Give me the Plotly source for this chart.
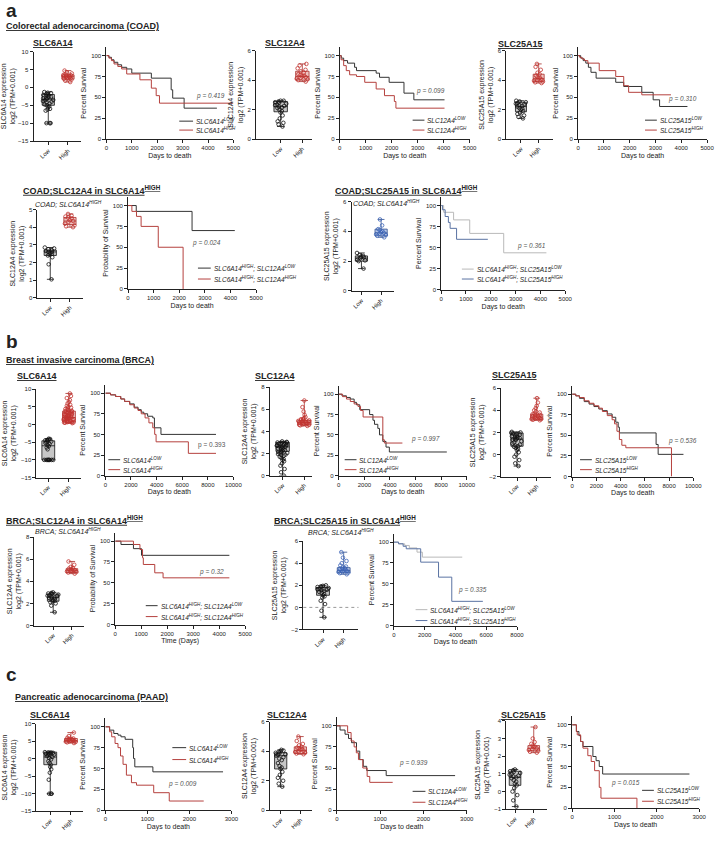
import plotly.graph_objects as go

W, H = 720, 841
FONT = "Liberation Sans, Arial, sans-serif"

# ---------------- DATA ----------------
# box stats: [q1, median, q3, min, max]
coad_slc6a14_low_stats = [-5.0, -3.3, -2.0, -10.0, -1.3]
coad_slc6a14_low_pts = [-1.3, -1.5, -1.6, -1.8, -2.0, -2.1, -2.3, -2.5, -2.6, -2.8, -3.0, -3.1, -3.3, -3.5,
                        -3.6, -3.8, -4.0, -4.2, -4.5, -4.8, -5.0, -5.3, -5.6, -6.0, -6.2, -6.5, -10, -10, -10]
coad_slc6a14_high_stats = [2.3, 3.0, 3.5, 1.5, 4.7]
coad_slc6a14_high_pts = [1.5, 1.9, 2.2, 2.4, 2.5, 2.6, 2.8, 2.9, 3.0, 3.1, 3.2, 3.3, 3.4, 3.5, 3.7, 3.9, 4.2, 4.7]
coad_slc12a4_low_stats = [1.85, 2.2, 2.55, 0.85, 2.6]
coad_slc12a4_low_pts = [0.85, 1.0, 1.1, 1.2, 1.4, 1.6, 1.8, 1.9, 2.0, 2.1, 2.15, 2.2, 2.25, 2.3, 2.35, 2.4, 2.45,
                        2.5, 2.55, 2.6, 2.6]
coad_slc12a4_high_stats = [4.0, 4.25, 4.6, 3.9, 5.1]
coad_slc12a4_high_pts = [3.9, 4.0, 4.05, 4.1, 4.15, 4.2, 4.25, 4.3, 4.35, 4.4, 4.5, 4.6, 4.7, 4.8, 5.0, 5.1]
coad_slc25a15_low_stats = [1.85, 2.2, 2.5, 1.4, 2.6]
coad_slc25a15_low_pts = [1.4, 1.5, 1.6, 1.7, 1.8, 1.9, 2.0, 2.05, 2.1, 2.2, 2.25, 2.3, 2.35, 2.4, 2.45, 2.5, 2.55, 2.6]
coad_slc25a15_high_stats = [3.9, 4.1, 4.4, 3.8, 5.1]
coad_slc25a15_high_pts = [3.8, 3.85, 3.9, 3.95, 4.0, 4.05, 4.1, 4.15, 4.2, 4.3, 4.4, 4.5, 4.7, 4.9, 5.1]
coad_sub12_low_stats = [2.4, 2.6, 2.7, 1.05, 2.85]
coad_sub12_low_pts = [1.05, 1.9, 2.3, 2.4, 2.45, 2.5, 2.55, 2.6, 2.6, 2.65, 2.7, 2.75, 2.8, 2.85]
coad_sub12_high_stats = [4.15, 4.35, 4.55, 4.0, 4.75]
coad_sub12_high_pts = [4.0, 4.05, 4.1, 4.2, 4.3, 4.35, 4.4, 4.5, 4.55, 4.6, 4.65, 4.75]
coad_sub25_low_stats = [2.0, 2.2, 2.35, 1.5, 2.55]
coad_sub25_low_pts = [1.5, 2.0, 2.05, 2.1, 2.2, 2.25, 2.3, 2.35, 2.4, 2.55]
coad_sub25_high_stats = [3.7, 3.9, 4.15, 3.6, 4.8]
coad_sub25_high_pts = [3.6, 3.7, 3.75, 3.8, 3.85, 3.9, 3.95, 4.0, 4.1, 4.15, 4.4, 4.8]

brca_slc6a14_low_stats = [-10.0, -6.0, -4.6, -10.2, -4.0]
brca_slc6a14_low_pts = [-4.0, -4.1, -4.3, -4.4, -4.5, -4.6, -4.8, -5.0, -5.2, -5.5, -5.8, -6.1, -6.5, -7.0,
                        -10, -10, -10, -10, -10, -10, -10, -10]
brca_slc6a14_high_stats = [0.7, 2.0, 3.8, 0.4, 8.8]
brca_slc6a14_high_pts = [0.4, 0.5, 0.6, 0.6, 0.7, 0.7, 0.8, 0.9, 1.0, 1.0, 1.1, 1.2, 1.3, 1.4, 1.5, 1.5, 1.6, 1.7,
                         1.8, 1.9, 2.0, 2.0, 2.1, 2.2, 2.3, 2.4, 2.5, 2.6, 2.7, 2.8, 2.9, 3.0, 3.1, 3.2, 3.3, 3.4,
                         3.5, 3.6, 3.7, 3.8, 3.9, 4.0, 4.2, 4.4, 4.6, 4.8, 5.0, 5.3, 5.6, 6.0, 6.4, 6.9, 7.5,
                         8.1, 8.8]
brca_slc12a4_low_stats = [2.2, 2.6, 3.0, 0.0, 3.1]
brca_slc12a4_low_pts = [0.0, 0.3, 0.6, 0.9, 1.1, 1.3, 1.4, 1.5, 1.6, 1.7, 1.8, 1.85, 1.9, 1.95, 2.0, 2.05, 2.1,
                        2.15, 2.2, 2.25, 2.3, 2.35, 2.4, 2.45, 2.5, 2.55, 2.6, 2.62, 2.65, 2.7, 2.72, 2.75, 2.8,
                        2.82, 2.85, 2.9, 2.92, 2.95, 3.0, 3.0, 3.05, 3.1]
brca_slc12a4_high_stats = [4.6, 4.8, 5.0, 4.5, 6.8]
brca_slc12a4_high_pts = [4.5, 4.55, 4.6, 4.6, 4.65, 4.7, 4.7, 4.75, 4.8, 4.8, 4.85, 4.9, 4.9, 4.95, 5.0, 5.0,
                         5.05, 5.1, 5.15, 5.2, 5.3, 5.5, 5.8, 6.2, 6.8]
brca_slc25a15_low_stats = [0.75, 1.4, 1.95, -1.05, 2.05]
brca_slc25a15_low_pts = [-1.05, -0.8, -0.5, -0.2, 0.0, 0.2, 0.4, 0.5, 0.6, 0.7, 0.75, 0.8, 0.9, 1.0, 1.1, 1.2,
                         1.3, 1.35, 1.4, 1.45, 1.5, 1.55, 1.6, 1.65, 1.7, 1.75, 1.8, 1.85, 1.9, 1.95, 2.0, 2.05]
brca_slc25a15_high_stats = [3.15, 3.4, 3.65, 3.1, 5.1]
brca_slc25a15_high_pts = [3.1, 3.15, 3.2, 3.2, 3.25, 3.3, 3.35, 3.4, 3.4, 3.45, 3.5, 3.55, 3.6, 3.65, 3.7, 3.8,
                          3.9, 4.0, 4.2, 4.4, 4.7, 5.1]
brca_sub12_low_stats = [2.2, 2.55, 2.85, 1.2, 3.0]
brca_sub12_low_pts = [1.2, 1.8, 2.0, 2.1, 2.2, 2.25, 2.3, 2.4, 2.45, 2.5, 2.55, 2.6, 2.65, 2.7, 2.75, 2.8, 2.85,
                      2.9, 2.95, 3.0]
brca_sub12_high_stats = [4.8, 5.0, 5.15, 4.7, 5.8]
brca_sub12_high_pts = [4.7, 4.8, 4.85, 4.9, 4.95, 5.0, 5.0, 5.05, 5.1, 5.15, 5.2, 5.3, 5.5, 5.8]
brca_sub25_low_stats = [1.1, 1.5, 1.8, -0.9, 2.0]
brca_sub25_low_pts = [-0.9, -0.3, 0.3, 0.6, 0.9, 1.0, 1.1, 1.2, 1.3, 1.4, 1.5, 1.55, 1.6, 1.65, 1.7, 1.75, 1.8,
                      1.85, 1.9, 1.95, 2.0]
brca_sub25_high_stats = [3.15, 3.35, 3.6, 3.0, 5.0]
brca_sub25_high_pts = [3.0, 3.1, 3.15, 3.2, 3.25, 3.3, 3.35, 3.4, 3.45, 3.5, 3.55, 3.6, 3.7, 3.8, 4.0, 4.2,
                       4.5, 5.0]

paad_slc6a14_low_stats = [-1.7, 0.5, 1.9, -10.0, 1.9]
paad_slc6a14_low_pts = [1.9, 1.85, 1.8, 1.7, 1.6, 1.5, 1.4, 1.3, 1.2, 1.0, 0.8, 0.5, 0.2, -0.2, -0.7, -1.2,
                        -1.7, -2.3, -3.0, -4.0, -6.0, -10, -10, -10]
paad_slc6a14_high_stats = [4.8, 5.2, 5.8, 4.5, 7.5]
paad_slc6a14_high_pts = [4.5, 4.7, 4.8, 4.9, 5.0, 5.1, 5.2, 5.3, 5.4, 5.5, 5.6, 5.7, 5.8, 6.0, 6.5, 7.5]
paad_slc12a4_low_stats = [2.8, 3.7, 3.9, 1.6, 4.1]
paad_slc12a4_low_pts = [1.6, 1.8, 2.0, 2.2, 2.4, 2.6, 2.8, 2.9, 3.0, 3.2, 3.4, 3.5, 3.6, 3.7, 3.75, 3.8, 3.85,
                        3.9, 3.95, 4.0, 4.05, 4.1]
paad_slc12a4_high_stats = [3.85, 4.05, 4.3, 3.8, 5.0]
paad_slc12a4_high_pts = [3.8, 3.85, 3.9, 3.95, 4.0, 4.05, 4.1, 4.15, 4.2, 4.25, 4.3, 4.4, 4.5, 4.7, 5.0]
paad_slc25a15_low_stats = [0.35, 0.8, 1.15, -0.85, 1.25]
paad_slc25a15_low_pts = [-0.85, -0.5, -0.2, 0.0, 0.2, 0.35, 0.45, 0.55, 0.65, 0.75, 0.8, 0.85, 0.9, 0.95, 1.0,
                         1.05, 1.1, 1.15, 1.2, 1.25]
paad_slc25a15_high_stats = [2.3, 2.45, 2.6, 2.2, 3.65]
paad_slc25a15_high_pts = [2.2, 2.25, 2.3, 2.35, 2.4, 2.45, 2.5, 2.55, 2.6, 2.7, 2.8, 3.0, 3.65]

# Kaplan-Meier curves (days, percent survival)
km_coad_slc6a14_low_t = [0, 100, 200, 300, 450, 600, 800, 1000, 1770, 2550, 2610, 3060, 4350]
km_coad_slc6a14_low_s = [100, 98, 95, 92, 89, 86, 84, 79, 73, 59, 49, 37, 37]
km_coad_slc6a14_high_t = [0, 100, 200, 300, 450, 600, 800, 1320, 1770, 1960, 2090, 5000]
km_coad_slc6a14_high_s = [100, 97, 94, 90, 87, 84, 78, 71, 61, 52, 43, 43]
km_coad_slc12a4_low_t = [0, 60, 150, 300, 570, 644, 1400, 1530, 1900, 2470, 2850, 4030]
km_coad_slc12a4_low_s = [100, 97, 94, 91, 86, 82, 79, 74, 68, 55, 47, 47]
km_coad_slc12a4_high_t = [0, 50, 150, 250, 380, 644, 960, 1400, 1720, 2100, 2160, 4030]
km_coad_slc12a4_high_s = [100, 95, 88, 82, 77, 75, 68, 60, 52, 45, 37, 37]
km_coad_slc25a15_low_t = [0, 100, 200, 300, 400, 500, 700, 1460, 1770, 2470, 2910, 3160, 4240]
km_coad_slc25a15_low_s = [100, 97, 94, 91, 86, 80, 73, 68, 63, 56, 47, 39, 39]
km_coad_slc25a15_high_t = [0, 60, 150, 250, 380, 820, 1460, 1770, 1960, 2470, 3600]
km_coad_slc25a15_high_s = [100, 98, 96, 94, 91, 82, 75, 64, 56, 53, 53]
km_coad_sub12_low_t = [0, 320, 2500, 4170]
km_coad_sub12_low_s = [100, 93, 70, 70]
km_coad_sub12_high_t = [0, 150, 330, 510, 1180, 2150]
km_coad_sub12_high_s = [100, 93, 87, 75, 50, 0]
km_coad_sub25_low_t = [0, 100, 500, 1150, 2520, 4240]
km_coad_sub25_low_s = [100, 92, 83, 67, 44, 44]
km_coad_sub25_high_t = [0, 50, 160, 290, 360, 620, 1880]
km_coad_sub25_high_s = [100, 95, 87, 80, 73, 60, 60]

km_brca_slc6a14_low_t = [0, 400, 800, 1200, 1500, 1900, 2250, 2550, 2800, 3000, 3300, 3700, 3830, 4340, 8640]
km_brca_slc6a14_low_s = [100, 98, 96, 93, 90, 87, 83, 80, 77, 75, 72, 70, 58, 50, 50]
km_brca_slc6a14_high_t = [0, 400, 800, 1200, 1500, 1900, 2250, 2550, 2800, 3100, 3400, 3700, 3850, 3960, 6480, 8640]
km_brca_slc6a14_high_s = [100, 98, 96, 93, 90, 86, 82, 79, 75, 70, 64, 58, 50, 41, 27, 27]
km_brca_slc12a4_low_t = [0, 250, 600, 900, 1200, 1380, 1640, 2410, 2670, 2790, 3050, 3180, 3440, 3690, 3950, 8440]
km_brca_slc12a4_low_s = [100, 98, 96, 94, 90, 87, 81, 75, 68, 63, 58, 50, 42, 35, 29, 29]
km_brca_slc12a4_high_t = [0, 300, 600, 900, 1200, 1500, 1700, 1900, 3440, 3560, 4970]
km_brca_slc12a4_high_s = [100, 97, 94, 91, 88, 85, 80, 72, 44, 40, 40]
km_brca_slc25a15_low_t = [0, 300, 600, 1000, 1400, 1800, 2200, 2500, 2900, 3300, 3600, 3800, 3900, 6930, 7100, 9190]
km_brca_slc25a15_low_s = [100, 98, 95, 91, 88, 85, 82, 80, 76, 72, 66, 60, 53, 39, 27, 27]
km_brca_slc25a15_high_t = [0, 300, 600, 1000, 1400, 1800, 2200, 2500, 2900, 3300, 3500, 3700, 3900, 4100, 4430, 8200]
km_brca_slc25a15_high_s = [100, 98, 96, 92, 89, 86, 83, 79, 74, 69, 64, 55, 45, 38, 35, 0]
km_brca_sub12_low_t = [0, 220, 700, 1010, 4390]
km_brca_sub12_low_s = [100, 96, 91, 83, 83]
km_brca_sub12_high_t = [0, 700, 950, 1050, 1080, 1520, 1840, 4390]
km_brca_sub12_high_s = [100, 96, 90, 80, 72, 62, 56, 56]
km_brca_sub25_low_t = [0, 300, 700, 1000, 1500, 1850, 4440]
km_brca_sub25_low_s = [100, 98, 96, 93, 88, 82, 82]
km_brca_sub25_high_t = [0, 300, 600, 800, 1740, 2900, 3760, 5780]
km_brca_sub25_high_s = [100, 98, 95, 92, 76, 58, 29, 29]

km_paad_slc6a14_low_t = [0, 100, 200, 300, 370, 470, 650, 670, 700, 1130, 2800]
km_paad_slc6a14_low_s = [100, 96, 92, 90, 88, 85, 75, 62, 52, 46, 46]
km_paad_slc6a14_high_t = [0, 100, 150, 230, 300, 360, 420, 500, 620, 740, 1150, 1520, 2340]
km_paad_slc6a14_high_s = [100, 94, 88, 80, 75, 65, 55, 42, 33, 30, 21, 11, 11]
km_paad_slc12a4_low_t = [0, 75, 190, 270, 340, 455, 530, 610, 690, 1140, 2730]
km_paad_slc12a4_low_s = [100, 95, 90, 85, 80, 70, 60, 52, 47, 41, 41]
km_paad_slc12a4_high_t = [0, 250, 330, 400, 450, 500, 600, 700, 760, 1290]
km_paad_slc12a4_high_s = [100, 92, 82, 75, 68, 60, 50, 40, 33, 33]
km_paad_slc25a15_low_t = [0, 100, 160, 200, 255, 490, 565, 640, 720, 2770]
km_paad_slc25a15_low_s = [100, 92, 87, 80, 74, 62, 57, 50, 41, 41]
km_paad_slc25a15_high_t = [0, 100, 120, 200, 255, 370, 450, 530, 640, 680, 1530]
km_paad_slc25a15_high_s = [100, 92, 88, 80, 72, 63, 56, 45, 25, 12, 0]

p_values = ["p = 0.419", "p = 0.099", "p = 0.310", "p = 0.024", "p = 0.361",
            "p = 0.393", "p = 0.997", "p = 0.536", "p = 0.32", "p = 0.335",
            "p = 0.009", "p = 0.939", "p = 0.015"]

# ---------------- STYLE ----------------
INK = "#222222"
RED_PT, RED_FILL, RED_LINE = "#c23430", "#efc3c1", "#a8302c"
BLUE_PT, BLUE_FILL, BLUE_LINE = "#3b63b6", "#b9c9e8", "#2f4f8f"
GREY_FILL = "#c6c6c6"
KM_BLACK, KM_RED, KM_GREY, KM_BLUE = "#333333", "#b5413e", "#b9b9b9", "#5a73a3"

fig = go.Figure()
layout = {}
annotations = []
shapes = []
counter = [0]

AXBASE = dict(showline=True, linecolor=INK, linewidth=1, ticks="outside", ticklen=3, tickwidth=1,
              tickcolor=INK, showgrid=False, zeroline=False, tickfont=dict(size=6, color=INK),
              title_font=dict(size=7, color=INK), fixedrange=True)


def fx(x):
    return x / W


def fy(y):
    return 1 - y / H


def text(t, x, y, size=7, xanchor="left", yanchor="middle", color=INK):
    annotations.append(dict(text=t, x=fx(x), y=fy(y), xref="paper", yref="paper", xanchor=xanchor,
                            yanchor=yanchor, showarrow=False, borderpad=0,
                            font=dict(size=size, color=color)))


def box_panel(geom, yrange, dtick, ytitle, low_stats, low_pts, high_stats, high_pts, hi_colors):
    axis_x, low_x, high_x, end_x, ytop, ybot = geom
    counter[0] += 1
    n = counter[0]
    unit = high_x - low_x
    xr = [(axis_x - low_x) / unit, (end_x - low_x) / unit]
    layout[f"xaxis{n}"] = dict(AXBASE, domain=[fx(axis_x), fx(end_x)], range=xr, anchor=f"y{n}",
                               tickmode="array", tickvals=[0, 1], ticktext=["Low", "High"], tickangle=-45)
    layout[f"yaxis{n}"] = dict(AXBASE, domain=[fy(ybot), fy(ytop)], range=yrange, dtick=dtick,
                               anchor=f"x{n}", title=dict(text=ytitle, standoff=3))
    for pos, stats, pts, (pc, fc, lc) in [(0, low_stats, low_pts, ("#111111", GREY_FILL, "#111111")),
                                          (1, high_stats, high_pts, hi_colors)]:
        q1, med, q3, lo, hi = stats
        fig.add_trace(go.Box(x=[pos], q1=[q1], median=[med], q3=[q3], lowerfence=[lo], upperfence=[hi],
                             y=[pts], boxpoints="all", jitter=1.0, pointpos=0, width=0.62, whiskerwidth=0.55,
                             fillcolor=fc, line=dict(color=lc, width=0.8),
                             marker=dict(color=pc, size=3.6, symbol="circle-open", line=dict(width=0.8, color=pc)),
                             xaxis=f"x{n}", yaxis=f"y{n}", showlegend=False, hoverinfo="skip"))
    return n


def km_panel(geom, xmax, xdtick, ytitle, xtitle, curves, ptext, ppos, pital=True):
    x0, x1, y100, y0 = geom
    counter[0] += 1
    n = counter[0]
    ytop = y100 - (y0 - y100) * 0.1
    layout[f"xaxis{n}"] = dict(AXBASE, domain=[fx(x0), fx(x1)], range=[0, xmax], dtick=xdtick,
                               tickformat="d", anchor=f"y{n}", title=dict(text=xtitle, standoff=2))
    layout[f"yaxis{n}"] = dict(AXBASE, domain=[fy(y0), fy(ytop)], range=[0, 110], tickmode="array",
                               tickvals=[0, 25, 50, 75, 100], anchor=f"x{n}",
                               title=dict(text=ytitle, standoff=3))
    for t, s, c in curves:
        fig.add_trace(go.Scatter(x=t, y=s, mode="lines", line=dict(color=c, width=1, shape="hv"),
                                 xaxis=f"x{n}", yaxis=f"y{n}", showlegend=False, hoverinfo="skip"))
    ptxt = f"<i>{ptext}</i>" if pital else ptext
    annotations.append(dict(text=ptxt, x=ppos[0], y=ppos[1], xref=f"x{n}", yref=f"y{n}", showarrow=False,
                            font=dict(size=6.5, color="#555555")))
    return n


def km_legend(xl0, xl1, xt, rows, items):
    for (lab, col), y in zip(items, rows):
        shapes.append(dict(type="line", xref="paper", yref="paper", x0=fx(xl0), x1=fx(xl1), y0=fy(y), y1=fy(y),
                           line=dict(color=col, width=1)))
        text(f"<i>{lab}</i>", xt, y, size=6.5)


def two(g):
    return [(f"{g}<sup>LOW</sup>", KM_BLACK), (f"{g}<sup>HIGH</sup>", KM_RED)]


def sub(g):
    return [(f"SLC6A14<sup>HIGH</sup>; {g}<sup>LOW</sup>", KM_GREY if g == "SLC25A15" else KM_BLACK),
            (f"SLC6A14<sup>HIGH</sup>; {g}<sup>HIGH</sup>", KM_BLUE if g == "SLC25A15" else KM_RED)]


RED = (RED_PT, RED_FILL, RED_LINE)
BLUE = (BLUE_PT, BLUE_FILL, BLUE_LINE)
YT = "{} expression<br>log2 (TPM+0.001)"
DAYS = "Days to death"
PS = "Percent Survival"

# ---------------- PANEL a ----------------
text("<b>a</b>", 3, 8, size=19)
text("<b><u>Colorectal adenocarcinoma (COAD)</u></b>", 3, 23, size=9)
text("<b><u>SLC6A14</u></b>", 52, 40, size=9, xanchor="center")
text("<b><u>SLC12A4</u></b>", 287, 40, size=9, xanchor="center")
text("<b><u>SLC25A15</u></b>", 527, 41, size=9, xanchor="center")

box_panel((32, 47, 67, 80, 49, 139), [-15, 10], 5, YT.format("SLC6A14"),
          coad_slc6a14_low_stats, coad_slc6a14_low_pts, coad_slc6a14_high_stats, coad_slc6a14_high_pts, RED)
km_panel((106, 235, 53, 137), 5000, 1000, PS, DAYS,
         [(km_coad_slc6a14_low_t, km_coad_slc6a14_low_s, KM_BLACK),
          (km_coad_slc6a14_high_t, km_coad_slc6a14_high_s, KM_RED)], p_values[0], (4100, 52))
km_legend(180, 194, 196, [119, 128], two("SLC6A14"))

box_panel((258, 283, 305, 315, 48, 137), [0, 6], 2, YT.format("SLC12A4"),
          coad_slc12a4_low_stats, coad_slc12a4_low_pts, coad_slc12a4_high_stats, coad_slc12a4_high_pts, RED)
km_panel((343, 475, 53, 137), 5000, 1000, PS, DAYS,
         [(km_coad_slc12a4_low_t, km_coad_slc12a4_low_s, KM_BLACK),
          (km_coad_slc12a4_high_t, km_coad_slc12a4_high_s, KM_RED)], p_values[1], (3500, 57))
km_legend(417, 429, 431, [118, 128], two("SLC12A4"))

box_panel((512, 527, 545, 560, 48, 137), [0, 6], 2, YT.format("SLC25A15"),
          coad_slc25a15_low_stats, coad_slc25a15_low_pts, coad_slc25a15_high_stats, coad_slc25a15_high_pts, RED)
km_panel((585, 716, 53, 137), 5000, 1000, PS, DAYS,
         [(km_coad_slc25a15_low_t, km_coad_slc25a15_low_s, KM_BLACK),
          (km_coad_slc25a15_high_t, km_coad_slc25a15_high_s, KM_RED)], p_values[2], (4030, 48))
km_legend(653, 665, 667, [118, 128], two("SLC25A15"))

text("<b><u>COAD;SLC12A4 in SLC6A14<sup>HIGH</sup></u></b>", 20, 188, size=9)
text("<i>COAD; SLC6A14<sup>HIGH</sup></i>", 32, 202, size=7)
box_panel((36, 49, 69, 82, 208, 297), [0, 5], 1, YT.format("SLC12A4"),
          coad_sub12_low_stats, coad_sub12_low_pts, coad_sub12_high_stats, coad_sub12_high_pts, RED)
km_panel((128, 258, 204, 288), 5000, 1000, "Probability of Survival", DAYS,
         [(km_coad_sub12_low_t, km_coad_sub12_low_s, KM_BLACK),
          (km_coad_sub12_high_t, km_coad_sub12_high_s, KM_RED)], p_values[3], (3080, 55))
km_legend(199, 212, 214, [267, 278], sub("SLC12A4"))

text("<b><u>COAD;SLC25A15 in SLC6A14<sup>HIGH</sup></u></b>", 337, 188, size=9)
text("<i>COAD; SLC6A14<sup>HIGH</sup></i>", 355, 201, size=7)
box_panel((355, 365, 385, 398, 200, 290), [0, 6], 2, YT.format("SLC25A15"),
          coad_sub25_low_stats, coad_sub25_low_pts, coad_sub25_high_stats, coad_sub25_high_pts, BLUE)
km_panel((446, 572, 204, 289), 5000, 1000, PS, DAYS,
         [(km_coad_sub25_low_t, km_coad_sub25_low_s, KM_GREY),
          (km_coad_sub25_high_t, km_coad_sub25_high_s, KM_BLUE)], p_values[4], (3630, 52))
km_legend(467, 479, 481, [268, 278], sub("SLC25A15"))

# ---------------- PANEL b ----------------
text("<b>b</b>", 3, 341, size=19)
text("<b><u>Breast invasive carcinoma (BRCA)</u></b>", 3, 360, size=9)
text("<b><u>SLC6A14</u></b>", 36, 376, size=9, xanchor="center")
text("<b><u>SLC12A4</u></b>", 277, 376, size=9, xanchor="center")
text("<b><u>SLC25A15</u></b>", 520, 375, size=9, xanchor="center")

box_panel((35, 47, 68, 80, 389, 478), [-15, 10], 5, YT.format("SLC6A14"),
          brca_slc6a14_low_stats, brca_slc6a14_low_pts, brca_slc6a14_high_stats, brca_slc6a14_high_pts, RED)
km_panel((105, 235, 393, 476), 10000, 2000, PS, DAYS,
         [(km_brca_slc6a14_low_t, km_brca_slc6a14_low_s, KM_BLACK),
          (km_brca_slc6a14_high_t, km_brca_slc6a14_high_s, KM_RED)], p_values[5], (8300, 37), pital=False)
km_legend(108, 120, 122, [460, 470], two("SLC6A14"))

box_panel((272, 285, 307, 315, 387, 476), [0, 8], 2, YT.format("SLC12A4"),
          brca_slc12a4_low_stats, brca_slc12a4_low_pts, brca_slc12a4_high_stats, brca_slc12a4_high_pts, RED)
km_panel((342, 472, 394, 476), 10000, 2000, PS, DAYS,
         [(km_brca_slc12a4_low_t, km_brca_slc12a4_low_s, KM_BLACK),
          (km_brca_slc12a4_high_t, km_brca_slc12a4_high_s, KM_RED)], p_values[6], (6800, 45))
km_legend(348, 360, 362, [460, 470], two("SLC12A4"))

box_panel((507, 523, 543, 558, 388, 477), [-2, 6], 2, YT.format("SLC25A15"),
          brca_slc25a15_low_stats, brca_slc25a15_low_pts, brca_slc25a15_high_stats, brca_slc25a15_high_pts, RED)
km_panel((579, 702, 394, 477), 10000, 2000, PS, DAYS,
         [(km_brca_slc25a15_low_t, km_brca_slc25a15_low_s, KM_BLACK),
          (km_brca_slc25a15_high_t, km_brca_slc25a15_high_s, KM_RED)], p_values[7], (9070, 43))
km_legend(587, 599, 601, [460, 470], two("SLC25A15"))

text("<b><u>BRCA;SLC12A4 in SLC6A14<sup>HIGH</sup></u></b>", 3, 521, size=9)
text("<i>BRCA; SLC6A14<sup>HIGH</sup></i>", 33, 532, size=7)
box_panel((33, 52, 71, 83, 538, 627), [0, 8], 2, YT.format("SLC12A4"),
          brca_sub12_low_stats, brca_sub12_low_pts, brca_sub12_high_stats, brca_sub12_high_pts, RED)
km_panel((115, 247, 542, 626), 5000, 1000, "Probability of Survival", "Time (Days)",
         [(km_brca_sub12_low_t, km_brca_sub12_low_s, KM_BLACK),
          (km_brca_sub12_high_t, km_brca_sub12_high_s, KM_RED)], p_values[8], (3700, 63))
km_legend(146, 158, 160, [607, 618], sub("SLC12A4"))

text("<b><u>BRCA;SLC25A15 in SLC6A14<sup>HIGH</sup></u></b>", 275, 521, size=9)
text("<i>BRCA; SLC6A14<sup>HIGH</sup></i>", 310, 533, size=7)
nb5 = box_panel((306, 326, 347, 362, 542, 631), [-2, 6], 2, YT.format("SLC25A15"),
                brca_sub25_low_stats, brca_sub25_low_pts, brca_sub25_high_stats, brca_sub25_high_pts, BLUE)
shapes.append(dict(type="line", xref=f"x{nb5} domain", yref=f"y{nb5}", x0=0, x1=1, y0=0, y1=0,
                   line=dict(color="#999999", width=1, dash="dot"), layer="below"))
km_panel((398, 523, 543, 627), 8000, 2000, PS, DAYS,
         [(km_brca_sub25_low_t, km_brca_sub25_low_s, KM_GREY),
          (km_brca_sub25_high_t, km_brca_sub25_high_s, KM_BLUE)], p_values[9], (5090, 43))
km_legend(420, 432, 434, [611, 622], sub("SLC25A15"))

# ---------------- PANEL c ----------------
text("<b>c</b>", 3, 676, size=19)
text("<b><u>Pancreatic adenocarcinoma (PAAD)</u></b>", 12, 699, size=9)
text("<b><u>SLC6A14</u></b>", 49, 717, size=9, xanchor="center")
text("<b><u>SLC12A4</u></b>", 289, 717, size=9, xanchor="center")
text("<b><u>SLC25A15</u></b>", 530, 717, size=9, xanchor="center")

box_panel((35, 49, 70, 82, 726, 814), [-15, 10], 5, YT.format("SLC6A14"),
          paad_slc6a14_low_stats, paad_slc6a14_low_pts, paad_slc6a14_high_stats, paad_slc6a14_high_pts, RED)
km_panel((105, 233, 729, 813), 3000, 1000, PS, DAYS,
         [(km_paad_slc6a14_low_t, km_paad_slc6a14_low_s, KM_BLACK),
          (km_paad_slc6a14_high_t, km_paad_slc6a14_high_s, KM_RED)], p_values[10], (1840, 32))
km_legend(173, 187, 189, [750, 762], two("SLC6A14"))

box_panel((272, 283, 303, 315, 724, 813), [0, 6], 2, YT.format("SLC12A4"),
          paad_slc12a4_low_stats, paad_slc12a4_low_pts, paad_slc12a4_high_stats, paad_slc12a4_high_pts, RED)
km_panel((340, 472, 728, 813), 3000, 1000, PS, DAYS,
         [(km_paad_slc12a4_low_t, km_paad_slc12a4_low_s, KM_BLACK),
          (km_paad_slc12a4_high_t, km_paad_slc12a4_high_s, KM_RED)], p_values[11], (1780, 56))
km_legend(417, 430, 432, [794, 805], two("SLC12A4"))

box_panel((512, 521, 540, 553, 723, 812), [-1, 4], 1, YT.format("SLC25A15"),
          paad_slc25a15_low_stats, paad_slc25a15_low_pts, paad_slc25a15_high_stats, paad_slc25a15_high_pts, RED)
km_panel((579, 708, 727, 811), 3000, 1000, PS, DAYS,
         [(km_paad_slc25a15_low_t, km_paad_slc25a15_low_s, KM_BLACK),
          (km_paad_slc25a15_high_t, km_paad_slc25a15_high_s, KM_RED)], p_values[12], (1270, 30))
km_legend(650, 662, 664, [793, 804], two("SLC25A15"))

# ---------------- LAYOUT ----------------
layout = {("xaxis" if k == "xaxis1" else "yaxis" if k == "yaxis1" else k): v for k, v in layout.items()}
fig.update_layout(**layout)
fig.update_layout(width=W, height=H, margin=dict(l=0, r=0, t=0, b=0), paper_bgcolor="white",
                  plot_bgcolor="white", font=dict(family=FONT, color=INK, size=7), showlegend=False,
                  annotations=annotations, shapes=shapes, boxmode="overlay")
fig.write_html("out.html", config={"displayModeBar": False},
               post_script="document.body.style.margin='0px';document.body.style.padding='0px';")
